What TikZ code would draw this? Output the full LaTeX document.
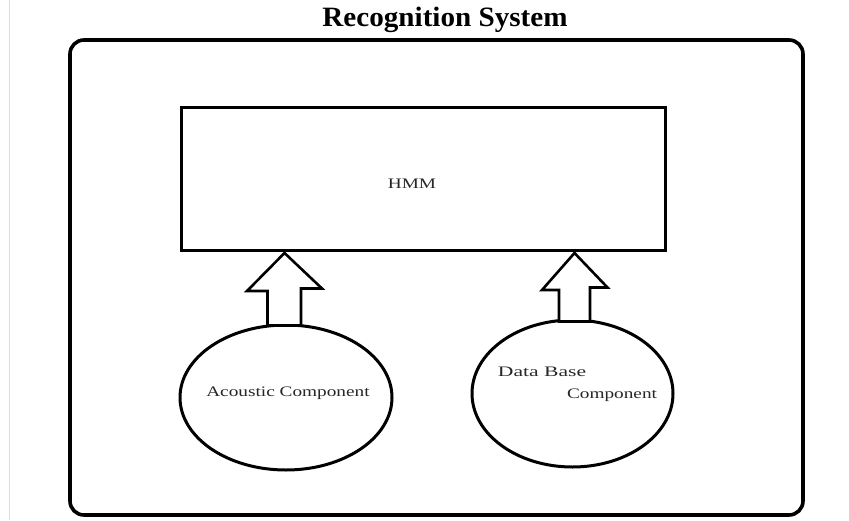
\documentclass[tikz,border=0pt]{standalone}
\usepackage{fontspec}
\setmainfont{Liberation Serif}
\usetikzlibrary{shapes.geometric,calc}
\tikzset{
  outerbox/.style={draw, line width=3.6pt, rounded corners=14pt},
  hmmbox/.style={draw, line width=3pt, minimum width=484pt, minimum height=143pt, inner sep=0pt},
  compell/.style={draw, ellipse, line width=3pt, inner sep=0pt},
  bigarrow/.style={draw, line width=2.6pt, line join=miter, fill=white},
  lbl/.style={font=\fontsize{14.5}{16}\selectfont, text=black!85, inner sep=0pt, xscale=1.33},
  ttl/.style={font=\bfseries\fontsize{28}{30}\selectfont, inner sep=0pt, xscale=1.04}
}
\begin{document}
\begin{tikzpicture}[x=1pt,y=-1pt]
\useasboundingbox (0,0) rectangle (849,520);
\draw[black!13, line width=1pt] (9,0) -- (9,520);
\node[ttl] (title) at (445,20) {Recognition System};
\draw[outerbox] (70,40) rectangle (803,515);
\node[hmmbox] (hmm) at (423,178.5) {};
\node[lbl] (hmmtxt) at (412,184) {HMM};
\node[compell, minimum width=212pt, minimum height=145pt] (ac) at (286,397.5) {};
\node[lbl] (actxt) at (288,393) {Acoustic Component};
\node[compell, minimum width=201pt, minimum height=147pt] (db) at (572.5,393.5) {};
\node[lbl, xscale=1.12] (dbtxt1) at (542,372) {Data Base};
\node[lbl] (dbtxt2) at (612,395) {Component};
% arrows
\coordinate (t1) at (hmm.south -| 284.5,0);
\coordinate (b1) at (ac.north -| 284,0);
\draw[bigarrow] ($(t1)+(0,1.5)$) -- ++(-37.5,38) -- ++(20.5,0) |- ($(b1)+(-17,2)$) -- ++(34,0) |- ++(21,-37) -- cycle;
\coordinate (t2) at (hmm.south -| 574.5,0);
\coordinate (b2) at (db.north -| 574.5,0);
\draw[bigarrow] ($(t2)+(0,1.5)$) -- ++(-32.5,37) -- ++(17,0) |- ($(b2)+(-15.5,3)$) -- ++(31,0) |- ++(17.5,-34) -- cycle;
\end{tikzpicture}
\end{document}
